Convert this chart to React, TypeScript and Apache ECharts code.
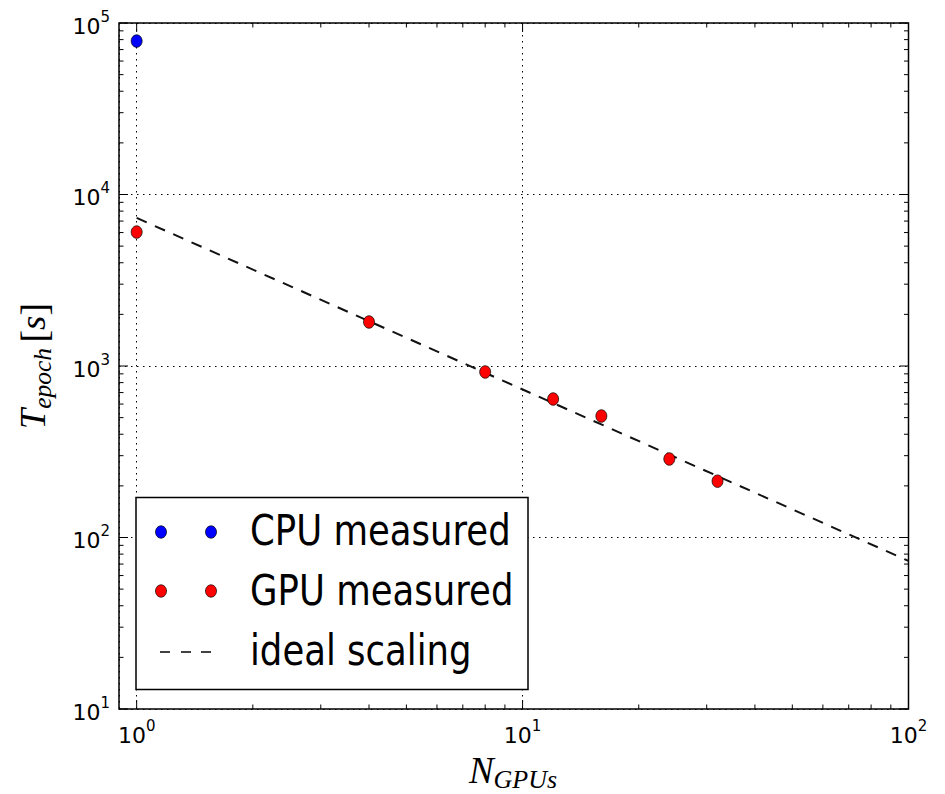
import React, { useEffect, useRef } from 'react';
import * as echarts from 'echarts';

// ---- data ----
const cpuCounts = [1];
const cpuTimes = [78500];
const gpuCounts = [1, 4, 8, 12, 16, 24, 32];
const gpuTimes = [6040, 1806, 923, 642, 511, 287, 213];
const idealCounts = [1, 100];
const idealTimes = [7300, 73];
const xExponents = [0, 1, 2];
const yExponents = [1, 2, 3, 4, 5];
const legendLabels = ['CPU measured', 'GPU measured', 'ideal scaling'];
const minorSteps = [2, 3, 4, 5, 6, 7, 8, 9];

const X_MIN = 0.9;
const X_MAX = 100;
const Y_MIN = 10;
const Y_MAX = 100000;

const zip = (a: number[], b: number[]) => a.map((v, i) => [v, b[i]]);

const majorOf = (exps: number[]) => exps.map((e) => Math.pow(10, e));
const minorOf = (exps: number[]) => {
  const out: number[] = [];
  for (let i = 0; i < exps.length - 1; i++) {
    const base = Math.pow(10, exps[i]);
    minorSteps.forEach((m) => out.push(m * base));
  }
  return out;
};

const labelFormatter = (exps: number[]) => (v: number) => {
  const l = Math.log10(v);
  const e = Math.round(l);
  if (Math.abs(l - e) > 1e-6 || exps.indexOf(e) < 0) return '';
  return `{a|10}{b|${e}}`;
};

const labelRich = {
  a: { fontSize: 22, fontFamily: 'DejaVu Sans', color: '#000', lineHeight: 28, verticalAlign: 'bottom' },
  b: { fontSize: 15, fontFamily: 'DejaVu Sans', color: '#000', lineHeight: 14, verticalAlign: 'top' },
};

export default function App() {
  const ref = useRef<HTMLDivElement>(null);

  useEffect(() => {
    if (!ref.current) return;
    const chart = echarts.init(ref.current, undefined, { renderer: 'svg' });

    const xMajor = majorOf(xExponents);
    const xMinor = minorOf(xExponents);
    const yMajor = majorOf(yExponents);
    const yMinor = minorOf(yExponents);

    const tickRender = (params: any, api: any) => {
      if (params.dataIndex !== 0) return null;
      const cs = params.coordSys;
      const left = cs.x;
      const top = cs.y;
      const right = cs.x + cs.width;
      const bottom = cs.y + cs.height;
      const children: any[] = [];
      const ln = (x1: number, y1: number, x2: number, y2: number) =>
        children.push({
          type: 'line',
          shape: { x1, y1, x2, y2 },
          style: { stroke: '#000', lineWidth: 1 },
        });
      const addX = (vals: number[], len: number) =>
        vals.forEach((v) => {
          const px = api.coord([v, Y_MIN])[0];
          ln(px, bottom, px, bottom - len);
          ln(px, top, px, top + len);
        });
      const addY = (vals: number[], len: number) =>
        vals.forEach((v) => {
          const py = api.coord([1, v])[1];
          ln(left, py, left + len, py);
          ln(right, py, right - len, py);
        });
      addX(xMajor, 9);
      addX(xMinor, 4.5);
      addY(yMajor, 9);
      addY(yMinor, 4.5);
      return { type: 'group', children };
    };

    const rowY = [531, 591, 651];

    chart.setOption({
      animation: false,
      backgroundColor: '#fff',
      grid: {
        left: 119,
        top: 23,
        right: 36.5,
        bottom: 85,
        show: true,
        borderColor: '#000',
        borderWidth: 1.5,
        backgroundColor: 'transparent',
      },
      xAxis: {
        type: 'log',
        logBase: 10,
        min: X_MIN,
        max: X_MAX,
        axisLine: { show: false },
        axisTick: { show: false },
        axisLabel: {
          margin: 9,
          formatter: labelFormatter(xExponents),
          rich: labelRich,
          showMinLabel: true,
          showMaxLabel: true,
        },
        splitLine: { show: true, lineStyle: { color: '#000', width: 1, type: [1.5, 4.5] } },
      },
      yAxis: {
        type: 'log',
        logBase: 10,
        min: Y_MIN,
        max: Y_MAX,
        axisLine: { show: false },
        axisTick: { show: false },
        axisLabel: {
          margin: 9,
          formatter: labelFormatter(yExponents),
          rich: labelRich,
          showMinLabel: true,
          showMaxLabel: true,
        },
        splitLine: { show: true, lineStyle: { color: '#000', width: 1, type: [1.5, 4.5] } },
      },
      series: [
        {
          name: legendLabels[2],
          type: 'line',
          data: zip(idealCounts, idealTimes),
          symbol: 'none',
          showSymbol: false,
          lineStyle: { color: '#111', width: 2, type: [11, 9] },
          silent: true,
          z: 2,
        },
        {
          name: legendLabels[1],
          type: 'scatter',
          data: zip(gpuCounts, gpuTimes),
          symbol: 'circle',
          symbolSize: [11, 12.5],
          itemStyle: { color: '#ff0000', borderColor: '#000', borderWidth: 0.7, opacity: 1 },
          emphasis: { disabled: true },
          silent: true,
          z: 3,
        },
        {
          name: legendLabels[0],
          type: 'scatter',
          data: zip(cpuCounts, cpuTimes),
          symbol: 'circle',
          symbolSize: [11, 12.5],
          itemStyle: { color: '#0000ff', borderColor: '#000', borderWidth: 0.7, opacity: 1 },
          emphasis: { disabled: true },
          silent: true,
          z: 3,
        },
        {
          type: 'custom',
          data: [[1, Y_MIN]],
          renderItem: tickRender,
          silent: true,
          clip: false,
          z: 5,
        },
      ],
      graphic: [
        // legend box
        {
          type: 'rect',
          z: 100,
          shape: { x: 136, y: 497.5, width: 392, height: 192 },
          style: { fill: '#fff', stroke: '#000', lineWidth: 1.5 },
        },
        ...[161, 211].map((cx) => ({
          type: 'ellipse',
          z: 101,
          shape: { cx, cy: rowY[0] + 1, rx: 5.5, ry: 6.2 },
          style: { fill: '#0000ff', stroke: '#000', lineWidth: 0.7 },
        })),
        ...[161, 211].map((cx) => ({
          type: 'ellipse',
          z: 101,
          shape: { cx, cy: rowY[1], rx: 5.5, ry: 6.2 },
          style: { fill: '#ff0000', stroke: '#000', lineWidth: 0.7 },
        })),
        ...[160, 181, 201].map((x) => ({
          type: 'line',
          z: 101,
          shape: { x1: x, y1: rowY[2] + 1, x2: x + 10, y2: rowY[2] + 1 },
          style: { stroke: '#111', lineWidth: 1.6 },
        })),
        ...legendLabels.map((t, i) => ({
          type: 'text',
          z: 101,
          x: 250,
          y: rowY[i] - 1,
          scaleY: 1.22,
          style: {
            text: t,
            fontSize: 35.5,
            fontFamily: 'DejaVu Sans',
            fill: '#000',
            align: 'left',
            textAlign: 'left',
            verticalAlign: 'middle',
            textVerticalAlign: 'middle',
          },
        })),
        // x axis title
        {
          type: 'text',
          z: 50,
          x: 513,
          y: 752,
          style: {
            text: '{m|N}{s|GPUs}',
            align: 'center',
            textAlign: 'center',
            verticalAlign: 'top',
            textVerticalAlign: 'top',
            rich: {
              m: { fontSize: 37, fontFamily: 'Liberation Serif', fontStyle: 'italic', fill: '#000', color: '#000', lineHeight: 40, verticalAlign: 'top' },
              s: { fontSize: 26, fontFamily: 'Liberation Serif', fontStyle: 'italic', fill: '#000', color: '#000', lineHeight: 22, verticalAlign: 'bottom' },
            },
          },
        },
        // y axis title
        {
          type: 'text',
          z: 50,
          x: 35,
          y: 366,
          rotation: Math.PI / 2,
          scaleX: 1.02,
          style: {
            text: '{m|T}{s|epoch}{g|[}{m|s}{r|]}',
            align: 'center',
            textAlign: 'center',
            verticalAlign: 'middle',
            textVerticalAlign: 'middle',
            rich: {
              m: { fontSize: 36, fontFamily: 'Liberation Serif', fontStyle: 'italic', fill: '#000', color: '#000', lineHeight: 40, verticalAlign: 'top' },
              g: { fontSize: 38, fontFamily: 'Liberation Serif', fill: '#000', color: '#000', lineHeight: 40, verticalAlign: 'top', padding: [0, 0, 0, 5] },
              r: { fontSize: 38, fontFamily: 'Liberation Serif', fill: '#000', color: '#000', lineHeight: 40, verticalAlign: 'top' },
              s: { fontSize: 25, fontFamily: 'Liberation Serif', fontStyle: 'italic', fill: '#000', color: '#000', lineHeight: 22, verticalAlign: 'bottom' },
            },
          },
        },
      ],
    });

    return () => chart.dispose();
  }, []);

  return (
    <div
      ref={ref}
      style={{ position: 'fixed', left: 0, top: 0, width: 945, height: 794, background: '#fff' }}
    />
  );
}
